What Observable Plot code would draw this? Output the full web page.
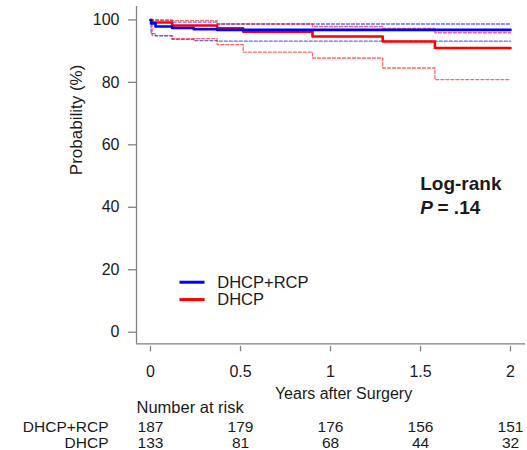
<!DOCTYPE html>
<html>
<head>
<meta charset="utf-8">
<script src="https://cdn.jsdelivr.net/npm/d3@7"></script>
<script src="https://cdn.jsdelivr.net/npm/@observablehq/plot@0.6"></script>
<style>
  html, body { margin: 0; padding: 0; background: #fff; }
  #chart { width: 527px; height: 450px; }
</style>
</head>
<body>
<div id="chart"></div>
<script>
// ---- data ----
const groups = ["DHCP+RCP", "DHCP"];
const groupColors = ["#0000ff", "#ff0000"];

// Kaplan–Meier estimates (%), step-after
const rcpTimes  = [0, 0.003, 0.028, 0.12, 0.24, 0.37, 2];
const rcpValues = [100, 98.9, 97.9, 97.4, 97.0, 96.8, 96.8];
const rcpUpperTimes  = [0, 0.12, 0.37, 2];
const rcpUpperValues = [100, 99.3, 98.7, 98.7];
const rcpLowerTimes  = [0, 0.003, 0.028, 0.12, 0.24, 0.37, 2];
const rcpLowerValues = [100, 95.6, 94.9, 93.8, 93.4, 93.2, 93.2];

const dhcpTimes  = [0, 0.009, 0.12, 0.37, 0.515, 0.90, 1.29, 1.58, 2];
const dhcpValues = [100, 99.2, 98.2, 97.3, 96.2, 94.7, 93.1, 91.0, 91.0];
const dhcpUpperTimes  = [0, 0.37, 0.90, 1.29, 1.58, 2];
const dhcpUpperValues = [99.8, 98.7, 97.9, 97.3, 95.9, 95.9];
const dhcpLowerTimes  = [0, 0.009, 0.12, 0.37, 0.515, 0.90, 1.29, 1.58, 2];
const dhcpLowerValues = [100, 95.0, 94.0, 92.1, 89.7, 87.8, 84.6, 80.9, 80.9];

// axis ticks
const xTicks = [0, 0.5, 1, 1.5, 2];
const xTickLabels = ["0", "0.5", "1", "1.5", "2"];
const yTicks = [0, 20, 40, 60, 80, 100];

// number at risk
const riskTimes = [0, 0.5, 1, 1.5, 2];
const riskRcp  = [187, 179, 176, 156, 151];
const riskDhcp = [133, 81, 68, 44, 32];

// ---- build tables ----
const toRows = (ts, vs) => ts.map((t, i) => ({t, v: vs[i]}));
const bands = [
  {c: groupColors[0], rows: toRows(rcpUpperTimes, rcpUpperValues)},
  {c: groupColors[0], rows: toRows(rcpLowerTimes, rcpLowerValues)},
  {c: groupColors[1], rows: toRows(dhcpUpperTimes, dhcpUpperValues)},
  {c: groupColors[1], rows: toRows(dhcpLowerTimes, dhcpLowerValues)}
];
const riskRcpRows  = riskTimes.map((t, i) => ({t, n: riskRcp[i]}));
const riskDhcpRows = riskTimes.map((t, i) => ({t, n: riskDhcp[i]}));
const legendRows = groups.map((g, i) => ({g, i}));

const textColor = "#1a1a1a";
const axisGrey = "#808080";
const xDomain = [-0.0778, 2.0833];
const yDomain = [-3.72, 104.3];
const FONT = 16.5;
const RISK_FONT = 15.5;

const plot = Plot.plot({
  width: 527,
  height: 450,
  marginLeft: 136,
  marginRight: 2,
  marginTop: 6,
  marginBottom: 106.7,
  x: {domain: xDomain},
  y: {domain: yDomain},
  style: {fontFamily: "'Liberation Sans', Arial, sans-serif", background: "#fff", overflow: "visible"},
  marks: [
    // L-shaped axis lines
    Plot.ruleX([xDomain[0]], {stroke: axisGrey, strokeWidth: 1.3}),
    Plot.ruleY([yDomain[0]], {stroke: axisGrey, strokeWidth: 1.3}),
    Plot.axisY({ticks: yTicks, tickSize: 8, tickPadding: 9, fontSize: 16, label: null, color: textColor}),
    Plot.axisX({ticks: xTicks, tickFormat: d => xTickLabels[xTicks.indexOf(d)], tickSize: 5.5, dy: 2.5,
                tickPadding: 14, fontSize: 16, label: null, color: textColor}),
    // confidence limits (dashed)
    ...bands.map(b => Plot.line(b.rows, {
      x: "t", y: "v", curve: "step-after", stroke: b.c,
      strokeWidth: 1.3, strokeDasharray: "3,2", strokeOpacity: 0.6
    })),
    // KM curves
    Plot.line(toRows(dhcpTimes, dhcpValues), {x: "t", y: "v", curve: "step-after", stroke: groupColors[1], strokeWidth: 2.6}),
    Plot.line(toRows(rcpTimes, rcpValues), {x: "t", y: "v", curve: "step-after", stroke: groupColors[0], strokeWidth: 2.6}),
    // legend
    Plot.link(legendRows, {x1: 0.161, x2: 0.3, y1: d => 16.0 - d.i * 5.55, y2: d => 16.0 - d.i * 5.55,
      stroke: d => groupColors[d.i], strokeWidth: 3}),
    Plot.text(legendRows, {text: "g", x: 0.371, y: d => 16.0 - d.i * 5.55, textAnchor: "start",
      fontSize: FONT, fill: textColor, lineAnchor: "middle"}),
    // y label
    Plot.text(["Probability (%)"], {frameAnchor: "left", rotate: -90, dx: -60, fontSize: 17, fill: textColor, lineAnchor: "middle"}),
    // x label
    Plot.text(["Years after Surgery"], {frameAnchor: "bottom", dx: 12.5, dy: 50, fontSize: 16, fill: textColor, lineAnchor: "middle"}),
    // log-rank
    Plot.text(["Log-rank"], {frameAnchor: "top-left", dx: 283.7, dy: 177, textAnchor: "start", fontSize: 19, fontWeight: "bold", fill: textColor, lineAnchor: "middle"}),
    Plot.text(["P"], {frameAnchor: "top-left", dx: 283.7, dy: 201, textAnchor: "start", fontSize: 19, fontWeight: "bold", fontStyle: "italic", fill: textColor, lineAnchor: "middle"}),
    Plot.text(["= .14"], {frameAnchor: "top-left", dx: 301, dy: 201, textAnchor: "start", fontSize: 19, fontWeight: "bold", fill: textColor, lineAnchor: "middle"}),
    // number at risk
    Plot.text(["Number at risk"], {frameAnchor: "bottom-left", dy: 64, textAnchor: "start", fontSize: FONT, fill: textColor, lineAnchor: "middle"}),
    Plot.text(riskRcpRows, {x: "t", text: d => String(d.n), frameAnchor: "bottom", dy: 83.5, fontSize: RISK_FONT, fill: textColor, lineAnchor: "middle"}),
    Plot.text(riskDhcpRows, {x: "t", text: d => String(d.n), frameAnchor: "bottom", dy: 99.3, fontSize: RISK_FONT, fill: textColor, lineAnchor: "middle"}),
    Plot.text([groups[0]], {frameAnchor: "bottom-left", dx: -28, dy: 83.5, textAnchor: "end", fontSize: RISK_FONT, fill: textColor, lineAnchor: "middle"}),
    Plot.text([groups[1]], {frameAnchor: "bottom-left", dx: -28, dy: 99.3, textAnchor: "end", fontSize: RISK_FONT, fill: textColor, lineAnchor: "middle"})
  ]
});
plot.querySelectorAll('[aria-label$="axis tick"]').forEach(g => {
  g.setAttribute("stroke", axisGrey);
  g.setAttribute("stroke-width", "1.3");
  g.querySelectorAll("path").forEach(p => p.setAttribute("stroke", axisGrey));
});
document.getElementById("chart").appendChild(plot);
</script>
</body>
</html>
